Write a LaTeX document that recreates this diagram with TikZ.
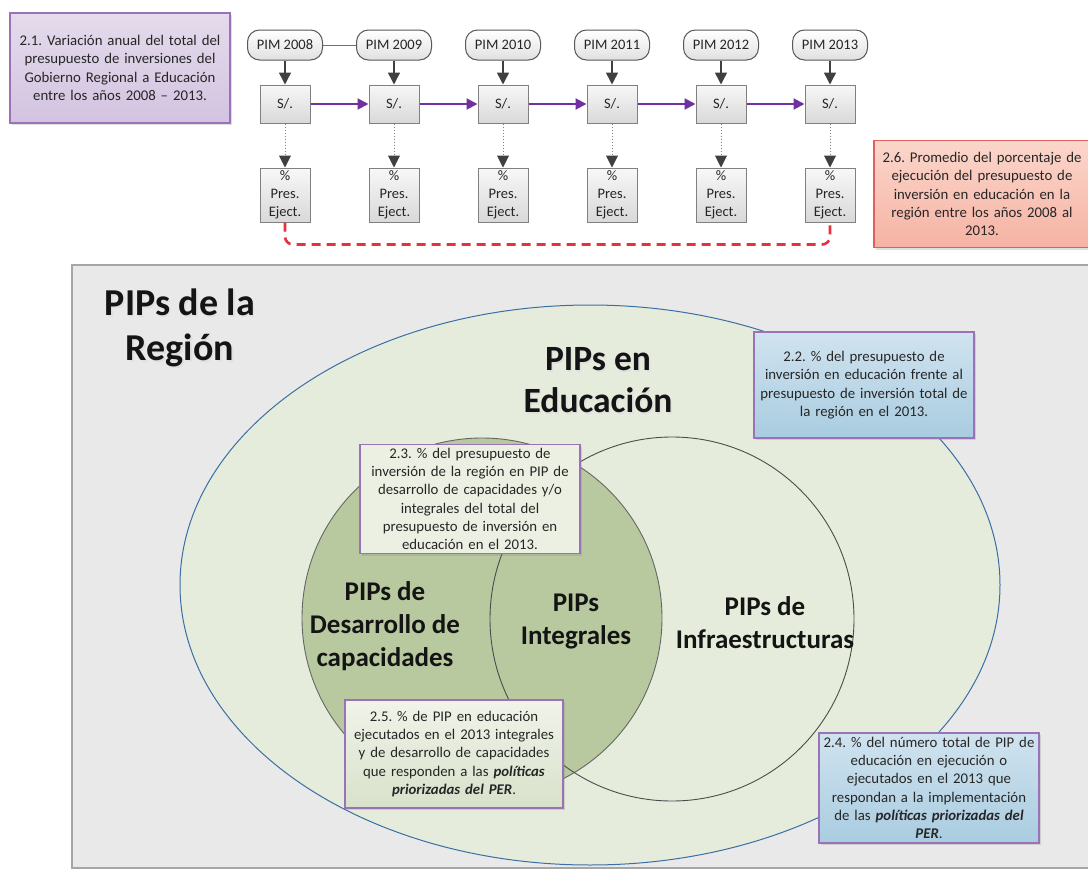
\documentclass[tikz,border=0pt]{standalone}
\usepackage{fontspec}
\setmainfont{Carlito}
\usetikzlibrary{arrows.meta,shadows}
\frenchspacing
\definecolor{panelgray}{HTML}{EAE9EA}
\definecolor{ellfill}{HTML}{E6ECDB}
\definecolor{ellline}{HTML}{3A6FA5}
\definecolor{dkgreen}{HTML}{B8C99F}
\definecolor{boxpurple}{HTML}{9A72B8}
\definecolor{arrgray}{HTML}{404040}
\definecolor{linepurple}{HTML}{7030A0}
\definecolor{dashred}{HTML}{E83040}
\definecolor{pinkborder}{HTML}{E06060}
\definecolor{lavtop}{HTML}{E4DBEC}
\definecolor{lavbot}{HTML}{D3C3E0}
\definecolor{bluetop}{HTML}{D0E3EF}
\definecolor{bluebot}{HTML}{A9CCE0}
\definecolor{pinktop}{HTML}{FBD6CB}
\definecolor{pinkbot}{HTML}{F6B3A4}
\tikzset{
  txtbox/.style={draw=boxpurple, line width=1.2pt, align=center, inner sep=2pt,
    font=\fontsize{14.8}{18.3}\selectfont, text=black!85,
    drop shadow={shadow xshift=2pt, shadow yshift=-2pt, opacity=0.25}},
  pimbox/.style={draw=black!65, line width=1pt, rounded corners=12pt,
    top color=white, bottom color=black!12, minimum width=75pt, minimum height=30pt,
    inner sep=0pt, font=\fontsize{14.5}{16}\selectfont, text=black!85},
  sbox/.style={draw=black!50, line width=1pt, top color=black!3, bottom color=black!15,
    minimum width=50pt, minimum height=38pt, inner sep=0pt,
    font=\fontsize{14.5}{16}\selectfont, text=black!85},
  pbox/.style={draw=black!50, line width=1pt, top color=black!3, bottom color=black!15,
    minimum width=50pt, minimum height=54pt, inner sep=0pt, align=center,
    font=\fontsize{14.5}{18}\selectfont, text=black!85},
  downarr/.style={draw=arrgray, line width=1.5pt, -{Triangle[length=12pt,width=12pt]}},
  dotarr/.style={draw=black!50, line width=1pt, dotted, -{Triangle[length=12pt,width=12pt,color=arrgray]}},
  purparr/.style={draw=linepurple, line width=2pt, -{Triangle[length=11pt,width=11pt]}},
  bigbold/.style={font=\fontsize{38}{45}\selectfont\bfseries, align=center, text=black!92},
  edubold/.style={font=\fontsize{35.5}{42}\selectfont\bfseries, align=center, text=black!92},
  midbold/.style={font=\fontsize{27}{33}\selectfont\bfseries, align=center, text=black!92},
  txtshadow/.style={text=black!12},
}
\begin{document}
\begin{tikzpicture}[x=1pt,y=-1pt]
\useasboundingbox (0,0) rectangle (1088,870);
\fill[white] (0,0) rectangle (1088,870);
% top chain
\foreach \i/\x/\yr in {1/285/2008,2/394/2009,3/503/2010,4/612/2011,5/721/2012,6/830/2013}{
  \node[pimbox] (pim\i) at (\x,45) {PIM \yr};
  \node[sbox] (s\i) at (\x,104) {S/.};
  \node[pbox] (p\i) at (\x,195) {\%\\Pres.\\Eject.};
  \draw[downarr] (pim\i.south) -- (s\i.north);
  \draw[dotarr] (s\i.south) -- (p\i.north);
}
\draw[black!55, line width=0.8pt] (pim1.east) -- (pim2.west);
\foreach \a/\b in {1/2,2/3,3/4,4/5,5/6}{\draw[purparr] (s\a.east) -- (s\b.west);}
\draw[dashred, line width=2.6pt, dash pattern=on 9pt off 6pt, rounded corners=8pt]
  (p1.south) -- ++(0,22) -| (p6.south);
\node[txtbox, top color=lavtop, bottom color=lavbot,
  minimum width=220pt, minimum height=110pt, text width=216pt] (b21) at (120,68)
  {2.1. Variación anual del total del\\presupuesto de inversiones del\\Gobierno Regional a Educación\\entre los años 2008 -- 2013.};
\node[txtbox, draw=pinkborder, top color=pinktop, bottom color=pinkbot,
  minimum width=216pt, minimum height=107pt, text width=212pt] (b26) at (982,194)
  {2.6. Promedio del porcentaje de\\ejecución del presupuesto de\\inversión en educación en la\\región entre los años 2008 al\\2013.};
% bottom panel
\fill[panelgray, draw=black!35, line width=1.5pt] (72,265) rectangle (1100,868);
\filldraw[fill=ellfill, draw=ellline, line width=1pt] (590,585) ellipse [x radius=410, y radius=280];
\filldraw[fill=dkgreen, draw=black!60, line width=0.9pt] (482,618) circle (180);
\draw[black!70, line width=0.9pt] (672,619) circle (182);
\node[bigbold, txtshadow] (lregsh) at (181.5,330) {PIPs de la\\Región};
\node[bigbold] (lreg) at (180,328) {PIPs de la\\Región};
\node[edubold, txtshadow] (ledush) at (599.5,382) {PIPs en\\Educación};
\node[edubold] (ledu) at (598,380) {PIPs en\\Educación};
\node[midbold] (ldes) at (385,626) {PIPs de\\Desarrollo de\\capacidades};
\node[midbold] (lint) at (576,622) {PIPs\\Integrales};
\node[midbold] (linf) at (765,623) {PIPs de\\Infraestructuras};
\node[txtbox, top color=bluetop, bottom color=bluebot,
  minimum width=218pt, minimum height=106pt, text width=216pt] (b22) at (864,385)
  {2.2. \% del presupuesto de\\inversión en educación frente al\\presupuesto de inversión total de\\la región en el 2013.};
\node[txtbox, fill=ellfill!80!white, minimum width=219pt, minimum height=109pt, text width=216pt] (b23) at (470,499)
  {2.3. \% del presupuesto de\\inversión de la región en PIP de\\desarrollo de capacidades y/o\\integrales del total del\\presupuesto de inversión en\\educación en el 2013.};
\node[txtbox, top color=ellfill!60!white, bottom color=dkgreen!55!white, minimum width=217pt, minimum height=108pt, text width=214pt] (b25) at (454,754)
  {2.5. \% de PIP en educación\\ejecutados en el 2013 integrales\\y de desarrollo de capacidades\\que responden a las \textbf{\textit{políticas}}\\\textbf{\textit{priorizadas del PER}}.};
\node[txtbox, top color=bluetop, bottom color=bluebot,
  minimum width=219pt, minimum height=110pt, text width=216pt] (b24) at (929,788)
  {2.4. \% del número total de PIP de\\educación en ejecución o\\ejecutados en el 2013 que\\respondan a la implementación\\de las \textbf{\textit{políticas priorizadas del}}\\\textbf{\textit{PER}}.};
\end{tikzpicture}
\end{document}
